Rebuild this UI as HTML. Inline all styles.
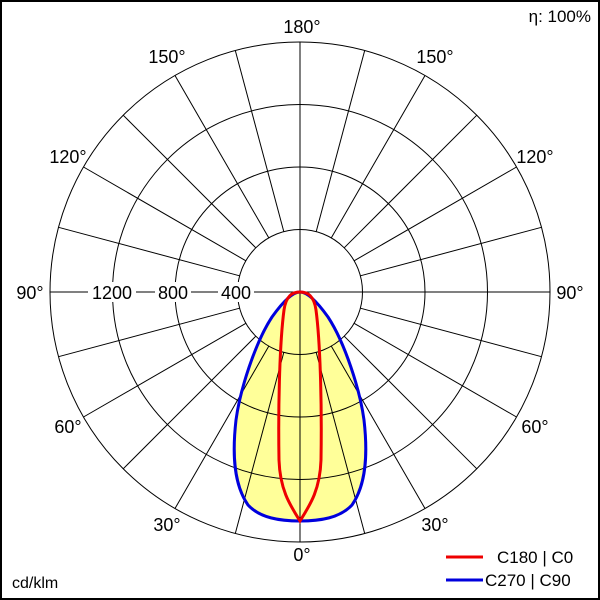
<!DOCTYPE html><html><head><style>body{margin:0}svg{display:block}text{font-family:"Liberation Sans",sans-serif;font-size:18px;fill:#000}</style></head><body>
<svg width="600" height="600" viewBox="0 0 600 600" xmlns="http://www.w3.org/2000/svg">
<rect x="1" y="1" width="598" height="598" fill="#fff" stroke="#000" stroke-width="2"/>
<path id="bl" d="M300,292 C308,292 318,303 328,317 C345,343 360,390 364,420 C368,455 366,485 352,505 C340,518 320,521 300,521 C280,521 260,518 248,505 C234,485 232,455 236,420 C240,390 255,343 272,317 C282,303 292,292 300,292Z" fill="#ffff99" stroke="none"/>
<g stroke="#000" stroke-width="1" fill="none">
<circle cx="300" cy="292" r="62.5"/><circle cx="300" cy="292" r="125"/><circle cx="300" cy="292" r="187.5"/><circle cx="300" cy="292" r="250"/>
<line x1="300" y1="42" x2="300" y2="542"/>
<line x1="50" y1="292" x2="550" y2="292"/>
</g>
<g stroke="#000" stroke-width="1">
<line x1="316.2" y1="231.6" x2="364.7" y2="50.5"/><line x1="331.3" y1="237.9" x2="425" y2="75.5"/><line x1="344.2" y1="247.8" x2="476.8" y2="115.2"/><line x1="354.1" y1="260.8" x2="516.5" y2="167"/><line x1="360.4" y1="275.8" x2="541.5" y2="227.3"/>
<line x1="360.4" y1="308.2" x2="541.5" y2="356.7"/><line x1="354.1" y1="323.3" x2="516.5" y2="417"/><line x1="344.2" y1="336.2" x2="476.8" y2="468.8"/><line x1="331.3" y1="346.1" x2="425" y2="508.5"/><line x1="316.2" y1="352.4" x2="364.7" y2="533.5"/>
<line x1="283.8" y1="231.6" x2="235.3" y2="50.5"/><line x1="268.8" y1="237.9" x2="175" y2="75.5"/><line x1="255.8" y1="247.8" x2="123.2" y2="115.2"/><line x1="245.9" y1="260.8" x2="83.5" y2="167"/><line x1="239.6" y1="275.8" x2="58.5" y2="227.3"/>
<line x1="239.6" y1="308.2" x2="58.5" y2="356.7"/><line x1="245.9" y1="323.3" x2="83.5" y2="417"/><line x1="255.8" y1="336.2" x2="123.2" y2="468.8"/><line x1="268.8" y1="346.1" x2="175" y2="508.5"/><line x1="283.8" y1="352.4" x2="235.3" y2="533.5"/>
</g>
<g fill="#fff"><rect x="88" y="282" width="48" height="20"/><rect x="155" y="282" width="36" height="20"/><rect x="218" y="282" width="36" height="20"/><rect x="14" y="280" width="35" height="24"/><rect x="551" y="280" width="35" height="24"/></g>
<text x="30" y="299" text-anchor="middle">90°</text><text x="570" y="299" text-anchor="middle">90°</text>
<text x="112" y="299" text-anchor="middle">1200</text><text x="173" y="299" text-anchor="middle">800</text><text x="236" y="299" text-anchor="middle">400</text>
<text x="302" y="33" text-anchor="middle">180°</text>
<text x="167" y="63" text-anchor="middle">150°</text><text x="435" y="63" text-anchor="middle">150°</text>
<text x="68" y="163" text-anchor="middle">120°</text><text x="535" y="163" text-anchor="middle">120°</text>
<text x="68" y="433" text-anchor="middle">60°</text><text x="535" y="433" text-anchor="middle">60°</text>
<text x="167" y="531" text-anchor="middle">30°</text><text x="435" y="531" text-anchor="middle">30°</text>
<text x="302" y="561" text-anchor="middle">0°</text>
<text x="591" y="22" text-anchor="end" style="font-size:17px">η: 100%</text>
<text x="12" y="588" style="font-size:16px">cd/klm</text>
<path d="M300,292 C308,292 318,303 328,317 C345,343 360,390 364,420 C368,455 366,485 352,505 C340,518 320,521 300,521 C280,521 260,518 248,505 C234,485 232,455 236,420 C240,390 255,343 272,317 C282,303 292,292 300,292Z" fill="none" stroke="#0000dd" stroke-width="3"/>
<path d="M300,292 C308,292 314,296 316,310 C320,340 322,400 321,460 C320,490 310,505 300,521 C290,505 280,490 279,460 C278,400 280,340 284,310 C286,296 292,292 300,292Z" fill="none" stroke="#ee0000" stroke-width="3"/>
<line x1="446" y1="557" x2="483" y2="557" stroke="#ee0000" stroke-width="3"/>
<line x1="446" y1="580" x2="483" y2="580" stroke="#0000dd" stroke-width="3"/>
<text x="497" y="563" style="font-size:17px">C180 | C0</text>
<text x="485" y="586" style="font-size:17px">C270 | C90</text>
</svg></body></html>
